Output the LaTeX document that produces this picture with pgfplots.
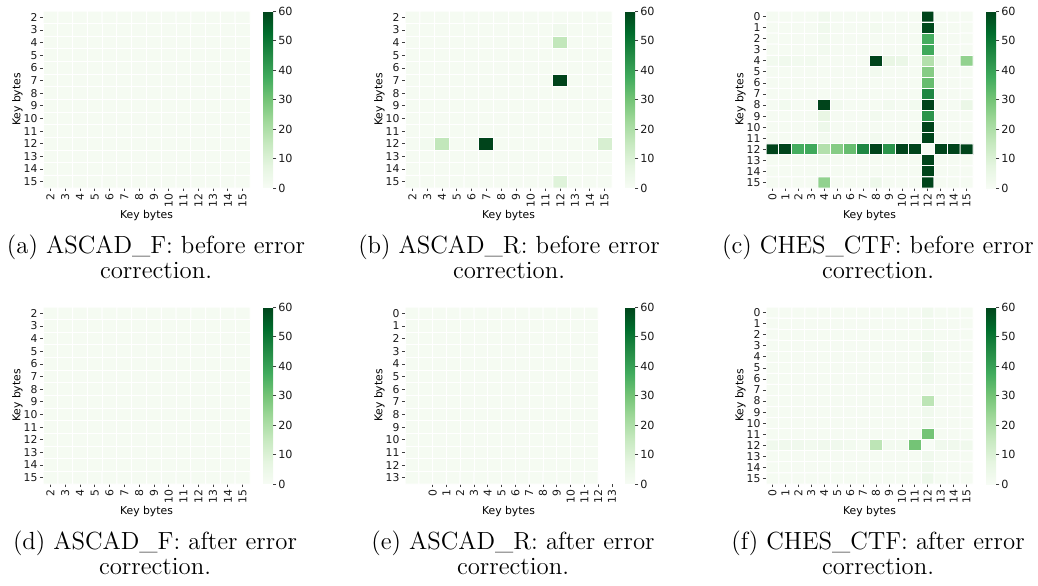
\documentclass[border=0pt]{standalone}
\usepackage{fontspec}
\usepackage{pgfplots}
\usepackage{pgfplotstable}
\pgfplotsset{compat=1.18}
\newfontfamily\dejavu{DejaVu Sans}
\newcommand{\tlfont}{\dejavu\fontsize{5.4}{6.2}\selectfont}
\newcommand{\cbfont}{\dejavu\fontsize{5.6}{6.4}\selectfont}
\newcommand{\capfont}{\fontsize{12.4}{15}\selectfont}

\pgfplotsset{
  colormap={greens}{rgb255=(247,252,245) rgb255=(229,245,224) rgb255=(199,233,192)
    rgb255=(161,217,155) rgb255=(116,196,118) rgb255=(65,171,93) rgb255=(35,139,69)
    rgb255=(0,109,44) rgb255=(0,68,27)},
  hm/.style={
    scale only axis, width=103.5pt, height=88.5pt,
    anchor=north west,
    y dir=reverse,
    axis line style={draw=none},
    tick align=outside, tick pos=left,
    major tick length=1.6pt,
    tick style={color=black!75, line width=0.35pt},
    ticklabel style={font=\tlfont, color=black!90, inner sep=1pt},
    /pgf/number format/assume math mode=true,
    xticklabel style={rotate=90, anchor=east},
    xlabel={Key bytes}, ylabel={Key bytes},
    label style={font=\tlfont},
    xlabel style={yshift=3pt}, ylabel style={yshift=-4pt},
    colormap name=greens, point meta min=0, point meta max=60,
    colorbar,
    colorbar style={
      width=5pt, at={(parent axis.north east)}, anchor=north west, xshift=-2pt,
      y dir=normal, xlabel={}, ylabel={},
      ytick={0,10,...,60}, axis line style={draw=none},
      ytick pos=right, yticklabel pos=right, tick align=outside,
      major tick length=1.6pt,
      ytick style={color=black!75, line width=0.35pt},
      yticklabel style={font=\cbfont, inner sep=0.8pt, /pgf/number format/assume math mode=true},
    },
  },
  cells/.style={matrix plot*, mesh/cols=#1, point meta=explicit,
    draw=white, line width=0.5pt},
}

% ASCAD_F before (rows/cols 2..15)
\pgfplotstableread[row sep=\\]{
v\\
1\\1\\1\\1\\1\\1\\1\\1\\1\\1\\1\\1\\1\\1\\
1\\1\\1\\1\\1\\1\\1\\1\\1\\1\\1\\1\\1\\1\\
1\\1\\1\\1\\1\\1\\1\\1\\1\\1\\1\\1\\1\\1\\
1\\1\\1\\1\\1\\1\\1\\1\\1\\1\\1\\1\\1\\1\\
1\\1\\1\\1\\1\\1\\1\\1\\1\\1\\1\\1\\1\\1\\
1\\1\\1\\1\\1\\1\\1\\1\\1\\1\\1\\1\\1\\1\\
1\\1\\1\\1\\1\\1\\1\\1\\1\\1\\1\\1\\1\\1\\
1\\1\\1\\1\\1\\1\\1\\1\\1\\1\\1\\1\\1\\1\\
1\\1\\1\\1\\1\\1\\1\\1\\1\\1\\1\\1\\1\\1\\
1\\1\\1\\1\\1\\1\\1\\1\\1\\1\\1\\1\\1\\1\\
1\\1\\1\\1\\1\\1\\1\\1\\1\\1\\1\\1\\1\\1\\
1\\1\\1\\1\\1\\1\\1\\1\\1\\1\\1\\1\\1\\1\\
1\\1\\1\\1\\1\\1\\1\\1\\1\\1\\1\\1\\1\\1\\
1\\1\\1\\1\\1\\1\\1\\1\\1\\1\\1\\1\\1\\1\\
}\tabA

% ASCAD_R before (rows/cols 2..15)
\pgfplotstableread[row sep=\\]{
v\\
1\\1\\1\\1\\1\\1\\1\\1\\1\\1\\1\\1\\1\\1\\
1\\1\\1\\1\\1\\1\\1\\1\\1\\1\\3\\1\\1\\1\\
1\\1\\1\\1\\1\\1\\1\\1\\1\\1\\16\\1\\1\\1\\
1\\1\\1\\1\\1\\1\\1\\1\\1\\1\\1\\1\\1\\1\\
1\\1\\1\\1\\1\\1\\1\\1\\1\\1\\1\\1\\1\\1\\
1\\1\\1\\1\\1\\1\\1\\1\\1\\1\\60\\1\\1\\1\\
1\\1\\1\\1\\1\\1\\1\\1\\1\\1\\1\\1\\1\\1\\
1\\1\\1\\1\\1\\1\\1\\1\\1\\1\\1\\1\\1\\1\\
1\\1\\1\\1\\1\\1\\1\\1\\1\\1\\1\\1\\1\\1\\
1\\1\\1\\1\\1\\1\\1\\1\\1\\1\\1\\1\\1\\1\\
1\\2\\16\\1\\1\\60\\1\\1\\1\\1\\1\\1\\1\\11\\
1\\1\\1\\1\\1\\1\\1\\1\\1\\1\\1\\1\\1\\1\\
1\\1\\1\\1\\1\\1\\1\\1\\1\\1\\1\\1\\1\\1\\
1\\1\\1\\1\\1\\1\\1\\1\\1\\1\\9\\1\\1\\1\\
}\tabB

% CHES_CTF before (rows/cols 0..15)
\pgfplotstableread[row sep=\\]{
v\\
1\\1\\1\\1\\3\\1\\1\\1\\1\\1\\1\\1\\60\\1\\1\\1\\
1\\1\\1\\1\\3\\1\\1\\1\\2\\1\\1\\1\\59\\1\\1\\1\\
1\\1\\1\\1\\2\\1\\1\\1\\1\\1\\1\\1\\37\\1\\1\\1\\
1\\1\\1\\1\\2\\1\\1\\1\\1\\1\\1\\1\\38\\1\\1\\1\\
2\\3\\2\\2\\1\\1\\1\\1\\60\\6\\5\\1\\19\\3\\1\\25\\
1\\1\\1\\1\\1\\1\\1\\1\\2\\1\\1\\1\\27\\1\\1\\1\\
1\\1\\1\\1\\1\\1\\1\\1\\1\\1\\1\\1\\32\\1\\1\\1\\
1\\1\\1\\1\\1\\1\\1\\1\\1\\1\\1\\1\\46\\1\\1\\1\\
1\\2\\1\\1\\60\\2\\1\\1\\1\\2\\1\\2\\60\\1\\1\\5\\
1\\1\\1\\1\\6\\1\\1\\1\\2\\1\\1\\1\\43\\1\\1\\1\\
1\\1\\1\\1\\4\\1\\1\\1\\1\\1\\1\\1\\60\\1\\1\\1\\
1\\1\\1\\1\\2\\1\\1\\1\\2\\1\\1\\1\\60\\1\\1\\1\\
60\\60\\37\\38\\19\\27\\32\\46\\60\\43\\60\\60\\0\\60\\60\\60\\
1\\1\\1\\1\\2\\1\\1\\1\\1\\1\\1\\1\\60\\1\\1\\1\\
1\\1\\1\\1\\1\\1\\1\\1\\1\\1\\1\\1\\60\\1\\1\\1\\
1\\1\\1\\1\\25\\1\\1\\1\\4\\1\\1\\1\\60\\1\\1\\1\\
}\tabC

% ASCAD_R after (rows/cols 0..13)
\pgfplotstableread[row sep=\\]{
v\\
1\\1\\1\\1\\1\\1\\1\\1\\1\\1\\1\\1\\1\\1\\
1\\1\\1\\1\\1\\1\\1\\1\\1\\1\\1\\1\\1\\1\\
1\\1\\1\\1\\1\\1\\1\\1\\1\\1\\1\\1\\1\\1\\
1\\1\\1\\1\\1\\1\\1\\1\\1\\1\\1\\1\\1\\1\\
1\\1\\1\\1\\1\\1\\1\\1\\1\\1\\1\\1\\1\\1\\
1\\1\\1\\1\\1\\1\\1\\1\\1\\1\\1\\1\\1\\1\\
1\\1\\1\\1\\1\\1\\1\\1\\1\\1\\1\\1\\1\\1\\
1\\1\\1\\1\\1\\1\\1\\1\\1\\1\\1\\1\\1\\1\\
1\\1\\1\\1\\1\\1\\1\\1\\1\\1\\1\\1\\1\\1\\
1\\1\\1\\1\\1\\1\\1\\1\\1\\1\\1\\1\\1\\1\\
1\\1\\1\\1\\1\\1\\1\\1\\1\\1\\1\\1\\1\\1\\
1\\1\\1\\1\\1\\1\\1\\1\\1\\1\\1\\1\\1\\1\\
1\\1\\1\\1\\1\\1\\1\\1\\1\\1\\1\\1\\1\\1\\
1\\1\\1\\1\\1\\1\\1\\1\\1\\1\\1\\1\\1\\1\\
}\tabE

% CHES_CTF after (rows/cols 0..15)
\pgfplotstableread[row sep=\\]{
v\\
1\\1\\1\\1\\1\\1\\1\\1\\1\\1\\1\\1\\3\\1\\1\\1\\
1\\1\\1\\1\\1\\1\\1\\1\\1\\1\\1\\1\\2\\1\\1\\1\\
1\\1\\1\\1\\1\\1\\1\\1\\1\\1\\1\\1\\2\\1\\1\\1\\
1\\1\\1\\1\\1\\1\\1\\1\\1\\1\\1\\1\\2\\1\\1\\1\\
1\\1\\1\\1\\1\\1\\1\\1\\1\\1\\1\\1\\4\\1\\1\\1\\
1\\1\\1\\1\\1\\1\\1\\1\\1\\1\\1\\1\\3\\1\\1\\1\\
1\\1\\1\\1\\1\\1\\1\\1\\1\\1\\1\\1\\3\\1\\1\\1\\
1\\1\\1\\1\\1\\1\\1\\1\\1\\1\\1\\1\\1\\1\\1\\1\\
1\\1\\1\\1\\1\\1\\1\\1\\1\\1\\1\\1\\17\\1\\1\\1\\
1\\1\\1\\1\\1\\1\\1\\1\\1\\1\\1\\1\\3\\1\\1\\1\\
1\\1\\1\\1\\1\\1\\1\\1\\1\\1\\1\\1\\2\\1\\1\\1\\
1\\1\\1\\1\\1\\1\\1\\1\\1\\1\\1\\1\\30\\1\\1\\1\\
3\\3\\3\\2\\3\\3\\2\\1\\17\\2\\2\\30\\0\\3\\3\\3\\
1\\1\\1\\1\\1\\1\\1\\1\\1\\1\\1\\1\\3\\1\\1\\1\\
1\\1\\1\\1\\1\\1\\1\\1\\1\\1\\1\\1\\3\\1\\1\\1\\
1\\1\\1\\1\\1\\1\\1\\1\\1\\1\\1\\1\\4\\1\\1\\1\\
}\tabF

% grid position of entry i in an n-column table
\newcommand{\cellx}[1]{\coordindex-#1*floor((\coordindex+0.5)/#1)}
\newcommand{\celly}[1]{floor((\coordindex+0.5)/#1)}

\begin{document}
\begin{tikzpicture}
\useasboundingbox (0,0) rectangle (519pt,292.5pt);

% (a)
\begin{axis}[hm, at={(21.5pt,287pt)},
  xmin=1.5, xmax=15.5, ymin=1.5, ymax=15.5,
  xtick={2,...,15}, ytick={2,...,15}]
\addplot[cells=14] table[x index=0, y index=0, x expr={2+\cellx{14}}, y expr={2+\celly{14}}, meta index=0] {\tabA};
\end{axis}

% (b)
\begin{axis}[hm, at={(202.5pt,287pt)},
  xmin=1.5, xmax=15.5, ymin=1.5, ymax=15.5,
  xtick={2,...,15}, ytick={2,...,15}]
\addplot[cells=14] table[x index=0, y index=0, x expr={2+\cellx{14}}, y expr={2+\celly{14}}, meta index=0] {\tabB};
\end{axis}

% (c)
\begin{axis}[hm, at={(383pt,287pt)},
  xmin=-0.5, xmax=15.5, ymin=-0.5, ymax=15.5,
  xtick={0,...,15}, ytick={0,...,15}]
\addplot[cells=16] table[x index=0, y index=0, x expr={\cellx{16}}, y expr={\celly{16}}, meta index=0] {\tabC};
\end{axis}

% (d)
\begin{axis}[hm, at={(21.5pt,139pt)},
  xmin=1.5, xmax=15.5, ymin=1.5, ymax=15.5,
  xtick={2,...,15}, ytick={2,...,15}]
\addplot[cells=14] table[x index=0, y index=0, x expr={2+\cellx{14}}, y expr={2+\celly{14}}, meta index=0] {\tabA};
\end{axis}

% (e)
\begin{axis}[hm, at={(202.5pt,139pt)},
  xmin=-0.5, xmax=14.5, ymin=-0.5, ymax=13.5,
  xtick={1.5,2.5,3.5,4.5,5.5,6.5,7.5,8.5,9.5,10.5,11.5,12.5,13.5,14.5},
  xticklabels={0,1,2,3,4,5,6,7,8,9,10,11,12,13},
  ytick={0,...,13}]
\addplot[cells=14] table[x index=0, y index=0, x expr={\cellx{14}}, y expr={\celly{14}}, meta index=0] {\tabE};
\end{axis}

% (f)
\begin{axis}[hm, at={(383pt,139pt)},
  xmin=-0.5, xmax=15.5, ymin=-0.5, ymax=15.5,
  xtick={0,...,15}, ytick={0,...,15}]
\addplot[cells=16] table[x index=0, y index=0, x expr={\cellx{16}}, y expr={\celly{16}}, meta index=0] {\tabF};
\end{axis}

% captions
\begin{scope}[every node/.style={font=\capfont, anchor=base, inner sep=0pt}]
\node at (78pt,166pt) {(a) ASCAD\_F: before error};
\node at (78pt,153.5pt) {correction.};
\node at (254.5pt,166pt) {(b) ASCAD\_R: before error};
\node at (254.5pt,153.5pt) {correction.};
\node at (439pt,166pt) {(c) CHES\_CTF: before error};
\node at (439pt,153.5pt) {correction.};
\node at (77.5pt,18pt) {(d) ASCAD\_F: after error};
\node at (77.5pt,5.5pt) {correction.};
\node at (256.5pt,18pt) {(e) ASCAD\_R: after error};
\node at (256.5pt,5.5pt) {correction.};
\node at (439pt,18pt) {(f) CHES\_CTF: after error};
\node at (439pt,5.5pt) {correction.};
\end{scope}
\end{tikzpicture}
\end{document}
